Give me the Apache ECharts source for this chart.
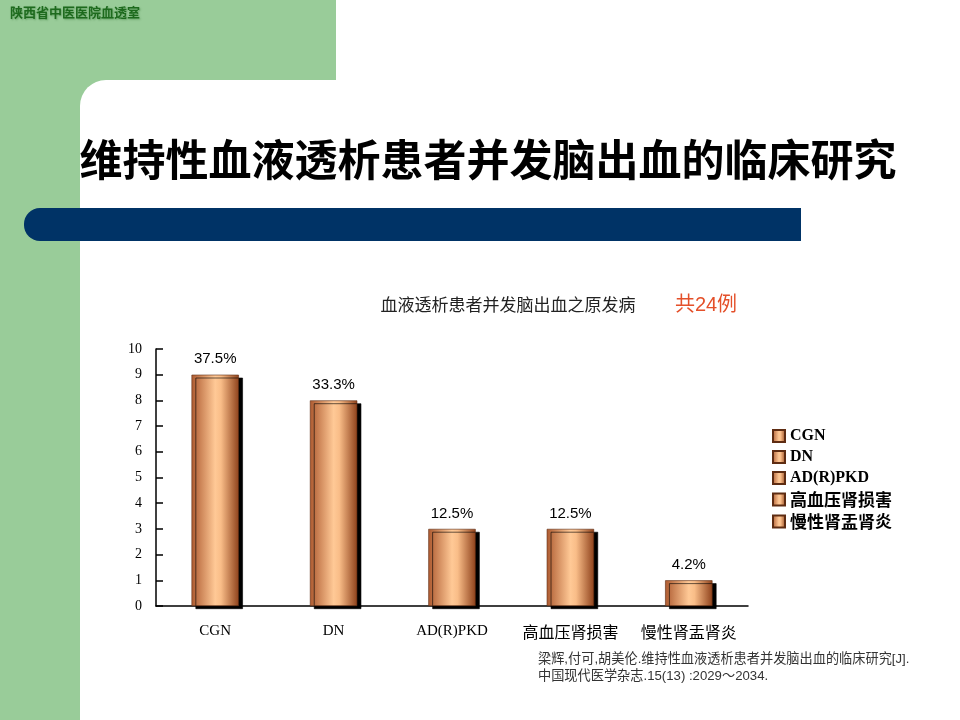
<!DOCTYPE html>
<html>
<head>
<meta charset="utf-8">
<script src="https://cdn.jsdelivr.net/npm/echarts@6/dist/echarts.min.js"></script>
<style>
html,body{margin:0;padding:0;background:#fff;}
#main{width:960px;height:720px;}
</style>
</head>
<body>
<div id="main"></div>
<script>
var categories = ['CGN', 'DN', 'AD(R)PKD', '高血压肾损害', '慢性肾盂肾炎'];
var counts = [9, 8, 3, 3, 1];
var percents = ['37.5%', '33.3%', '12.5%', '12.5%', '4.2%'];

var myChart = echarts.init(document.getElementById('main'));

var barColor = new echarts.graphic.LinearGradient(0, 0, 1, 0, [
    {offset: 0, color: '#ad5a30'},
    {offset: 0.5, color: '#ffc996'},
    {offset: 0.62, color: '#f9bd88'},
    {offset: 1, color: '#8f421c'}
]);

// chinese names get a bigger font than the latin ones
function cnWrap(v) {
    return /[\u4e00-\u9fa5]/.test(v) ? '{cn|' + v + '}' : v;
}

// one series per category so the legend lists them all
var series = categories.map(function (name, i) {
    return {
        name: name,
        type: 'bar',
        stack: 'all',
        barWidth: '40%',
        data: counts.map(function (v, j) { return j === i ? v : '-'; }),
        itemStyle: {
            color: barColor,
            borderColor: '#5e2c12',
            borderWidth: 0.6,
            shadowColor: '#000',
            shadowOffsetX: 4,
            shadowOffsetY: 3,
            shadowBlur: 0
        },
        label: {
            show: true,
            position: 'top',
            distance: 8,
            fontFamily: 'Liberation Sans',
            fontSize: 15,
            color: '#000',
            formatter: function (p) { return percents[p.dataIndex]; }
        }
    };
});

option = {
    backgroundColor: '#fff',
    animation: false,
    graphic: [
        {type: 'rect', shape: {x: 0, y: 0, width: 336, height: 120}, style: {fill: '#99cc99'}, z: -10},
        {type: 'rect', shape: {x: 0, y: 0, width: 80, height: 720}, style: {fill: '#99cc99'}, z: -10},
        {type: 'rect', shape: {x: 80, y: 80, width: 880, height: 640, r: [26, 0, 0, 0]}, style: {fill: '#fff'}, z: -9},
        {type: 'rect', shape: {x: 24, y: 208, width: 777, height: 33, r: [16, 0, 0, 16]}, style: {fill: '#003366'}, z: -8},
        {type: 'text', left: 10, top: 6, style: {
            text: '陕西省中医医院血透室', fill: '#1d6a1d', font: 'bold 13px "Noto Sans CJK SC"',
            textShadowColor: 'rgba(0,80,0,0.35)', textShadowBlur: 2, textShadowOffsetX: 1, textShadowOffsetY: 1
        }},
        {type: 'text', x: 488, y: 160, style: {
            text: '维持性血液透析患者并发脑出血的临床研究', fill: '#000',
            font: 'bold 43px "Noto Sans CJK SC"', align: 'center', verticalAlign: 'middle'
        }},
        {type: 'text', x: 508, y: 305, style: {
            text: '血液透析患者并发脑出血之原发病', fill: '#222',
            font: '17px "Noto Sans CJK SC"', align: 'center', verticalAlign: 'middle'
        }},
        {type: 'text', x: 706, y: 305, style: {
            text: '共24例', fill: '#e4502a',
            font: '20px "Liberation Sans", "Noto Sans CJK SC"', align: 'center', verticalAlign: 'middle'
        }},
        {type: 'text', x: 538, y: 651, style: {
            text: '梁辉,付可,胡美伦.维持性血液透析患者并发脑出血的临床研究[J].\n中国现代医学杂志.15(13) :2029～2034.',
            fill: '#333', font: '13.2px "Liberation Sans", "Noto Sans CJK SC"', lineHeight: 17
        }}
    ],
    legend: {
        orient: 'vertical',
        left: 767,
        top: 423,
        itemWidth: 12,
        itemHeight: 12,
        itemGap: 5,
        icon: 'rect',
        data: categories,
        formatter: cnWrap,
        textStyle: {
            fontFamily: '"Liberation Serif", "Noto Sans CJK SC"',
            fontSize: 16,
            fontWeight: 'bold',
            color: '#000',
            rich: {
                cn: {fontFamily: '"Noto Sans CJK SC"', fontSize: 17, fontWeight: 'bold', color: '#000'}
            }
        }
    },
    grid: {
        left: 156,
        right: 212,
        top: 349,
        bottom: 114
    },
    xAxis: {
        type: 'category',
        data: categories,
        axisLine: {lineStyle: {color: '#000', width: 1.5}},
        axisTick: {inside: true, length: 6, lineStyle: {color: '#000', width: 1.5}},
        axisLabel: {
            interval: 0,
            hideOverlap: false,
            margin: 18,
            fontFamily: 'Liberation Serif',
            fontSize: 15,
            color: '#000',
            formatter: cnWrap,
            rich: {
                cn: {fontFamily: '"Noto Sans CJK SC"', fontSize: 16, color: '#000'}
            }
        }
    },
    yAxis: {
        type: 'value',
        min: 0,
        max: 10,
        interval: 1,
        splitLine: {show: false},
        axisLine: {show: true, lineStyle: {color: '#000', width: 1.5}},
        axisTick: {show: true, inside: true, length: 7, lineStyle: {color: '#000', width: 1.5}},
        axisLabel: {
            margin: 14,
            fontFamily: 'Liberation Serif',
            fontSize: 14,
            color: '#000'
        }
    },
    series: series
};
myChart.setOption(option);
</script>
</body>
</html>
